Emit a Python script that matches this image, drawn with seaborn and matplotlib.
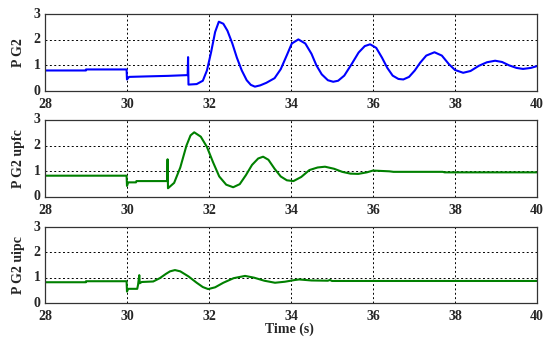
import pandas as pd
import matplotlib
matplotlib.use("Agg")
import matplotlib.pyplot as plt
import seaborn as sns

# Values (time in s, power in pu)
t_pg2 = [28.0, 29.0, 29.0, 29.99, 30.0, 30.05, 30.5, 31.0, 31.48, 31.49, 31.5, 31.7,
         31.85, 31.95, 32.05, 32.15, 32.24, 32.35, 32.45, 32.57, 32.68, 32.8, 32.92,
         33.02, 33.12, 33.25, 33.4, 33.6, 33.75, 33.9, 34.02, 34.18, 34.35, 34.5,
         34.62, 34.75, 34.9, 35.03, 35.15, 35.3, 35.48, 35.65, 35.8, 35.93, 36.08,
         36.22, 36.35, 36.48, 36.62, 36.74, 36.88, 37.02, 37.15, 37.3, 37.5, 37.68,
         37.85, 38.0, 38.2, 38.38, 38.58, 38.78, 38.98, 39.15, 39.32, 39.5, 39.66,
         39.85, 40.0]
pg2 = [0.80, 0.80, 0.84, 0.84, 0.45, 0.55, 0.57, 0.59, 0.62, 1.32, 0.25, 0.27,
       0.40, 0.80, 1.50, 2.30, 2.70, 2.62, 2.35, 1.85, 1.30, 0.80, 0.42,
       0.24, 0.17, 0.22, 0.32, 0.50, 0.85, 1.40, 1.85, 2.01, 1.85, 1.45,
       1.00, 0.65, 0.42, 0.36, 0.40, 0.60, 1.05, 1.50, 1.75, 1.82, 1.68,
       1.30, 0.90, 0.60, 0.47, 0.45, 0.55, 0.80, 1.10, 1.38, 1.51, 1.38,
       1.05, 0.82, 0.71, 0.78, 0.98, 1.12, 1.18, 1.13, 1.00, 0.90, 0.86,
       0.90, 0.97]

t_upfc = [28.0, 29.99, 30.0, 30.03, 30.22, 30.23, 30.98, 30.99, 31.0, 31.15, 31.3,
          31.45, 31.55, 31.64, 31.8, 31.95, 32.1, 32.25, 32.42, 32.59, 32.75, 32.9,
          33.05, 33.2, 33.32, 33.45, 33.6, 33.75, 33.9, 34.06, 34.25, 34.45, 34.65,
          34.83, 35.05, 35.25, 35.45, 35.64, 35.85, 36.0, 36.4, 36.5, 37.7, 37.75, 40.0]
pg2_upfc = [0.83, 0.83, 0.43, 0.57, 0.57, 0.62, 0.62, 1.47, 0.34, 0.55, 1.15,
            2.00, 2.40, 2.52, 2.35, 1.95, 1.35, 0.80, 0.48, 0.38, 0.50, 0.85,
            1.25, 1.50, 1.57, 1.45, 1.10, 0.80, 0.65, 0.62, 0.78, 1.05, 1.15,
            1.18, 1.10, 0.98, 0.91, 0.90, 0.96, 1.03, 1.00, 0.98, 0.98, 0.96, 0.96]

t_uipc = [28.0, 29.0, 29.0, 29.99, 30.0, 30.03, 30.25, 30.27, 30.30, 30.31, 30.36,
          30.64, 30.8, 30.95, 31.05, 31.17, 31.3, 31.5, 31.7, 31.85, 31.98, 32.15,
          32.35, 32.6, 32.88, 33.1, 33.35, 33.61, 33.85, 34.1, 34.2, 34.5, 34.9,
          34.95, 35.0, 40.0]
pg2_uipc = [0.82, 0.82, 0.86, 0.86, 0.45, 0.56, 0.56, 0.72, 1.10, 0.78, 0.83,
            0.85, 0.98, 1.15, 1.25, 1.30, 1.25, 1.05, 0.80, 0.63, 0.55, 0.62,
            0.80, 0.98, 1.07, 1.00, 0.88, 0.80, 0.84, 0.91, 0.93, 0.89, 0.88,
            0.91, 0.87, 0.87]

x_ticks = [28, 30, 32, 34, 36, 38, 40]
y_ticks = [0, 1, 2, 3]

sns.set_theme(style="white")
plt.rcParams['font.family'] = ['Liberation Serif', 'DejaVu Serif']
plt.rcParams['font.weight'] = 'bold'

fig = plt.figure(figsize=(5.5, 3.45), dpi=100)

panels = [
    (t_pg2, pg2, "P G2", "#0000ff", [0.0818, 0.7362, 0.8945, 0.2232]),
    (t_upfc, pg2_upfc, "P G2 upfc", "#008000", [0.0818, 0.4290, 0.8945, 0.2232]),
    (t_uipc, pg2_uipc, "P G2 uipc", "#008000", [0.0818, 0.1217, 0.8945, 0.2203]),
]

for t, v, label, color, rect in panels:
    ax = fig.add_axes(rect)
    df = pd.DataFrame({"t": t, "p": v})
    sns.lineplot(data=df, x="t", y="p", ax=ax, color=color, lw=1.5,
                 estimator=None, sort=False)
    ax.set_xlim(28, 40)
    ax.set_ylim(0, 3)
    ax.set_xticks(x_ticks)
    ax.set_yticks(y_ticks)
    ax.set_xticklabels([str(x) for x in x_ticks], fontsize=10, fontweight='bold')
    ax.set_yticklabels([str(y) for y in y_ticks], fontsize=10, fontweight='bold',
                       va='center')
    ax.tick_params(axis='x', length=0, pad=5)
    ax.tick_params(axis='y', length=0, pad=3)
    ax.grid(True, color='black', linestyle=(0, (2, 2.5)), linewidth=0.7)
    for sp in ax.spines.values():
        sp.set_color('#333333')
        sp.set_linewidth(0.9)
    ax.set_xlabel("")
    ax.set_ylabel(label, fontsize=10, fontweight='bold', labelpad=6)

fig.text(0.527, 0.045, "Time (s)", ha='center', va='center',
         fontsize=10, fontweight='bold')

fig.savefig("out.png", dpi=100)
